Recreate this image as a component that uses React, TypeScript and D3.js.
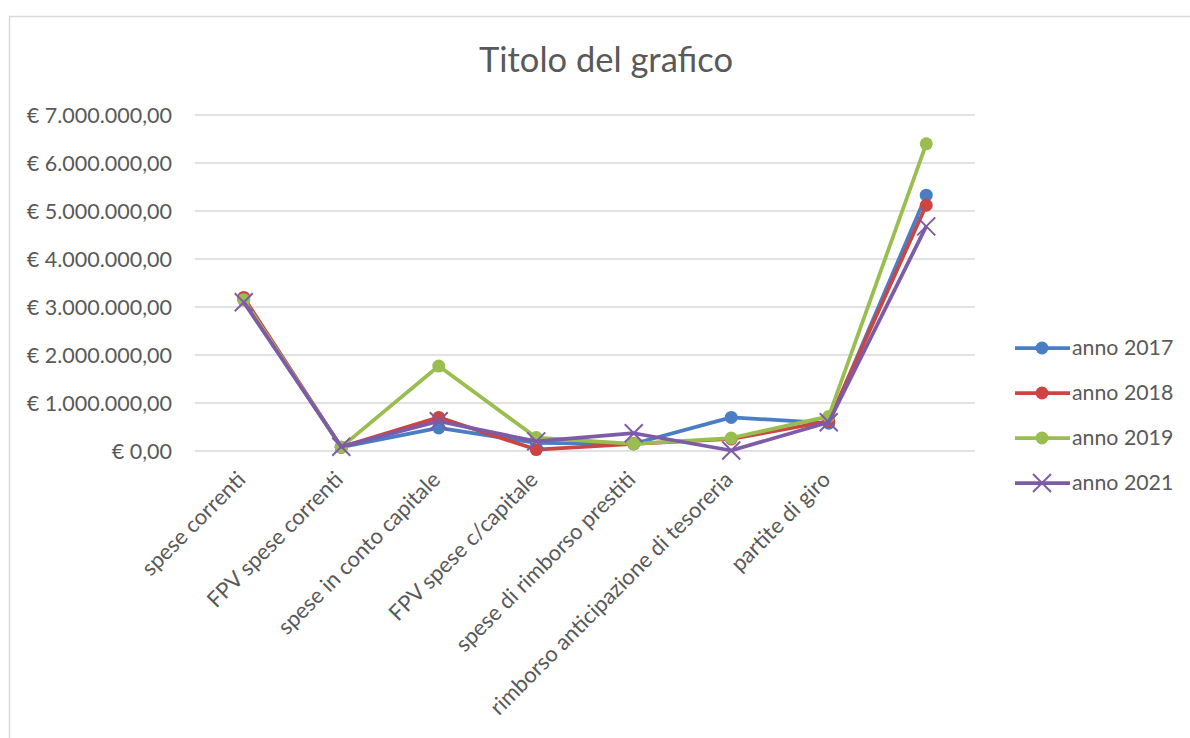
import React from "react";
import * as d3 from "d3";

const categories = [
  "spese correnti",
  "FPV spese correnti",
  "spese in conto capitale",
  "FPV spese c/capitale",
  "spese di rimborso prestiti",
  "rimborso anticipazione di tesoreria",
  "partite di giro",
  "",
];

const seriesNames = ["anno 2017", "anno 2018", "anno 2019", "anno 2021"];
const values2017 = [3150000, 80000, 480000, 170000, 150000, 700000, 580000, 5330000];
const values2018 = [3200000, 80000, 700000, 30000, 150000, 250000, 620000, 5120000];
const values2019 = [3150000, 80000, 1770000, 280000, 150000, 270000, 720000, 6400000];
const values2021 = [3100000, 90000, 620000, 200000, 370000, 10000, 600000, 4680000];
const seriesColors = ["#4A7EC4", "#CB4643", "#99BE4F", "#7D5BA6"];
const markerShapes = ["circle", "circle", "circle", "x"];
const yTicks = [0, 1000000, 2000000, 3000000, 4000000, 5000000, 6000000, 7000000];

const W = 1190;
const H = 738;
const FONT = "Lato, 'Open Sans', sans-serif";

function formatEuro(v: number): string {
  if (v === 0) return "€ 0,00";
  const s = d3.format(",.2f")(v);
  return "€ " + s.replace(/,/g, "#").replace(/\./g, ",").replace(/#/g, ".");
}

export default function App() {
  const x = d3.scaleBand<number>().domain(d3.range(categories.length)).range([195, 975]);
  const y = d3.scaleLinear().domain([0, 7000000]).range([451, 115]);
  const allSeries = [values2017, values2018, values2019, values2021];
  const line = d3
    .line<number>()
    .x((_, i) => (x(i) as number) + x.bandwidth() / 2)
    .y((d) => y(d));

  const marker = (shape: string, cx: number, cy: number, color: string, key: string, r = 6.5) =>
    shape === "circle" ? (
      <circle key={key} cx={cx} cy={cy} r={r} fill={color} />
    ) : (
      <g key={key} stroke={color} strokeWidth={2}>
        <line x1={cx - 9} y1={cy - 9} x2={cx + 9} y2={cy + 9} />
        <line x1={cx - 9} y1={cy + 9} x2={cx + 9} y2={cy - 9} />
      </g>
    );

  const legendY = [348, 393, 438, 483];

  return (
    <div style={{ position: "fixed", left: 0, top: 0, width: W, height: H, background: "#fff" }}>
      <svg width={W} height={H} style={{ display: "block" }}>
        <rect x={0} y={0} width={W} height={H} fill="#fff" />
        <rect x={9.5} y={16.5} width={W + 20} height={H + 20} fill="none" stroke="#d9d9d9" strokeWidth={1.5} />
        <text x={606} y={72} textAnchor="middle" fontFamily={FONT} fontSize={34.5} fill="#595959">
          Titolo del grafico
        </text>
        {yTicks.map((t) => (
          <g key={t}>
            <line x1={195} x2={975} y1={y(t)} y2={y(t)} stroke="#d9d9d9" strokeWidth={1.5} />
            <text x={172} y={y(t)} dy="0.35em" textAnchor="end" fontFamily={FONT} fontSize={21.5} fill="#595959">
              {formatEuro(t)}
            </text>
          </g>
        ))}
        {categories.map((c, i) => {
          const cx = (x(i) as number) + x.bandwidth() / 2;
          return (
            <text
              key={i}
              transform={`translate(${cx + 3},${481}) rotate(-45)`}
              textAnchor="end"
              fontFamily={FONT}
              fontSize={22}
              fill="#595959"
            >
              {c}
            </text>
          );
        })}
        {allSeries.map((vals, s) => (
          <g key={s}>
            <path d={line(vals) as string} fill="none" stroke={seriesColors[s]} strokeWidth={3.75} strokeLinejoin="round" />
            {vals.map((v, i) =>
              marker(markerShapes[s], (x(i) as number) + x.bandwidth() / 2, y(v), seriesColors[s], `${s}-${i}`)
            )}
          </g>
        ))}
        {seriesNames.map((n, s) => (
          <g key={n}>
            <line x1={1015} x2={1070} y1={legendY[s]} y2={legendY[s]} stroke={seriesColors[s]} strokeWidth={3.75} />
            {marker(markerShapes[s], 1042, legendY[s], seriesColors[s], `l${s}`)}
            <text x={1072} y={legendY[s]} dy="0.35em" fontFamily={FONT} fontSize={21.3} fill="#595959">
              {n}
            </text>
          </g>
        ))}
      </svg>
    </div>
  );
}
